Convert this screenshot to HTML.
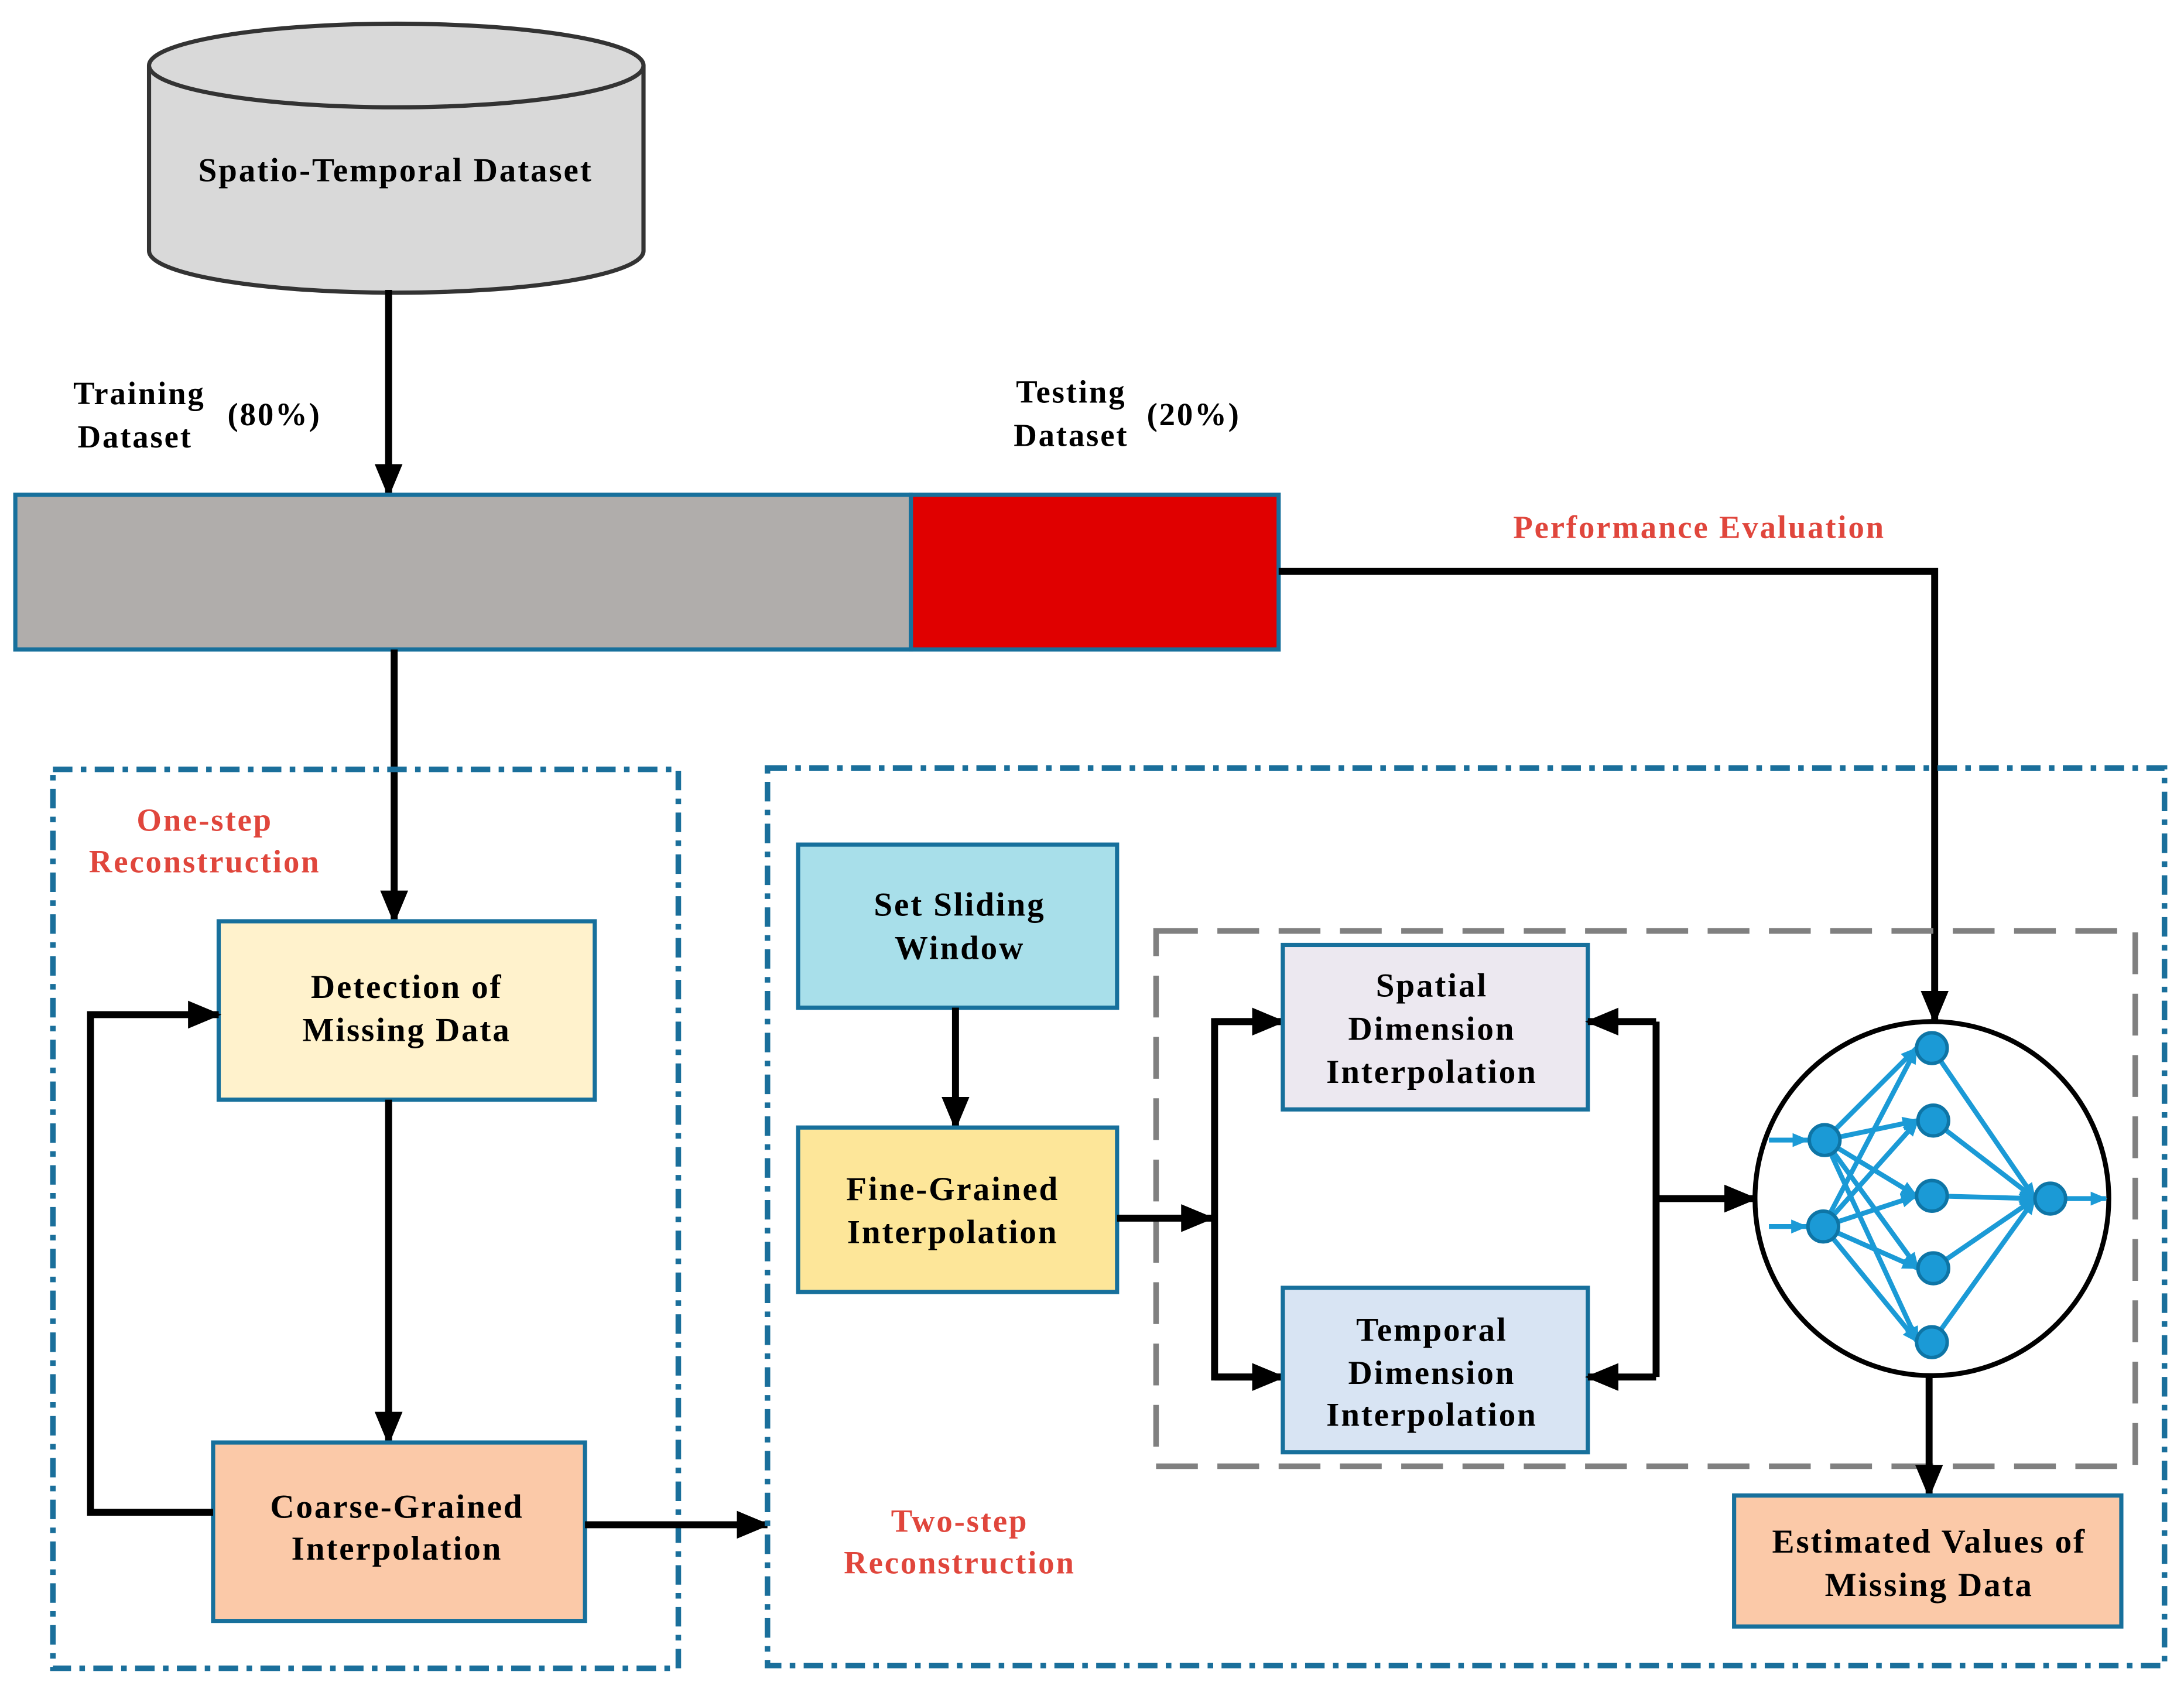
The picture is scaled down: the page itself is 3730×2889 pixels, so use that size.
<!DOCTYPE html>
<html><head><meta charset="utf-8"><style>
html,body{margin:0;padding:0;background:#fff;}
svg{display:block;}
text{font-family:"Liberation Serif",serif;font-weight:bold;letter-spacing:1.2px;}
</style></head><body>
<svg width="3730" height="2889" viewBox="0 0 1568 1214" preserveAspectRatio="none" xmlns="http://www.w3.org/2000/svg">
<defs>
<marker id="a" markerUnits="userSpaceOnUse" markerWidth="24" markerHeight="24" viewBox="0 0 24 24" refX="22" refY="12" orient="auto"><path d="M0,2 L24,12 L0,22 Z" fill="#000"/></marker>
<marker id="b" markerUnits="userSpaceOnUse" markerWidth="12" markerHeight="12" viewBox="0 0 12 12" refX="11" refY="6" orient="auto"><path d="M0,1 L12,6 L0,11 Z" fill="#1b9ad6"/></marker>
</defs>
<path d="M107,47 L107,180 A177.5,30 0 0 0 462,180 L462,47" fill="#d9d9d9" stroke="#333" stroke-width="3"/>
<ellipse cx="284.5" cy="47" rx="177.5" ry="30" fill="#d9d9d9" stroke="#333" stroke-width="3"/>
<text x="284" y="130" font-size="24" text-anchor="middle">Spatio-Temporal Dataset</text>
<line x1="279" y1="208" x2="279" y2="355" stroke="#000" stroke-width="5" marker-end="url(#a)"/>
<g font-size="23" text-anchor="middle">
<text x="100" y="290">Training</text><text x="97" y="321">Dataset</text><text x="197" y="305">(80%)</text>
<text x="769" y="289">Testing</text><text x="769" y="320">Dataset</text><text x="857" y="305">(20%)</text>
</g>
<rect x="11" y="355" width="643" height="111" fill="#b0adab" stroke="#17709c" stroke-width="3"/>
<rect x="654" y="355" width="264" height="111" fill="#e00000" stroke="#17709c" stroke-width="3"/>
<text x="1220" y="386" font-size="23" fill="#e0463c" text-anchor="middle">Performance Evaluation</text>
<polyline points="918,410 1389,410 1389,733" fill="none" stroke="#000" stroke-width="5" marker-end="url(#a)"/>
<line x1="283" y1="466" x2="283" y2="661" stroke="#000" stroke-width="5" marker-end="url(#a)"/>
<rect x="38" y="552" width="449" height="645" fill="none" stroke="#1a6f9b" stroke-width="4" stroke-dasharray="14,6,4,6"/>
<g font-size="23" fill="#e0463c" text-anchor="middle"><text x="147" y="596">One-step</text><text x="147" y="626">Reconstruction</text>
<text x="689" y="1099">Two-step</text><text x="689" y="1129">Reconstruction</text></g>
<rect x="157" y="661" width="270" height="128" fill="#fff2cc" stroke="#17709c" stroke-width="3"/>
<g font-size="24" text-anchor="middle"><text x="292" y="716">Detection of</text><text x="292" y="747">Missing Data</text></g>
<line x1="279" y1="789" x2="279" y2="1035" stroke="#000" stroke-width="5" marker-end="url(#a)"/>
<rect x="153" y="1035" width="267" height="128" fill="#fbc9a8" stroke="#17709c" stroke-width="3"/>
<g font-size="24" text-anchor="middle"><text x="285" y="1089">Coarse-Grained</text><text x="285" y="1119">Interpolation</text></g>
<polyline points="153,1085 65,1085 65,728 157,728" fill="none" stroke="#000" stroke-width="5" marker-end="url(#a)"/>
<line x1="420" y1="1094" x2="551" y2="1094" stroke="#000" stroke-width="5" marker-end="url(#a)"/>
<rect x="551" y="551" width="1003" height="644" fill="none" stroke="#1a6f9b" stroke-width="4" stroke-dasharray="14,6,4,6"/>
<rect x="573" y="606" width="229" height="117" fill="#a8dfea" stroke="#17709c" stroke-width="3"/>
<g font-size="24" text-anchor="middle"><text x="689" y="657">Set Sliding</text><text x="689" y="688">Window</text></g>
<line x1="686" y1="723" x2="686" y2="809" stroke="#000" stroke-width="5" marker-end="url(#a)"/>
<rect x="573" y="809" width="229" height="118" fill="#fde699" stroke="#17709c" stroke-width="3"/>
<g font-size="24" text-anchor="middle"><text x="684" y="861">Fine-Grained</text><text x="684" y="892">Interpolation</text></g>
<rect x="830" y="668" width="703" height="384" fill="none" stroke="#808080" stroke-width="4" stroke-dasharray="30,14"/>
<line x1="802" y1="874" x2="870" y2="874" stroke="#000" stroke-width="5" marker-end="url(#a)"/>
<polyline points="921,733 872,733 872,988 921,988" fill="none" stroke="#000" stroke-width="5"/>
<line x1="872" y1="733" x2="921" y2="733" stroke="#000" stroke-width="5" marker-end="url(#a)"/>
<line x1="872" y1="988" x2="921" y2="988" stroke="#000" stroke-width="5" marker-end="url(#a)"/>
<rect x="921" y="678" width="219" height="118" fill="#ece8f0" stroke="#17709c" stroke-width="3"/>
<g font-size="24" text-anchor="middle"><text x="1028" y="715">Spatial</text><text x="1028" y="746">Dimension</text><text x="1028" y="777">Interpolation</text></g>
<rect x="921" y="924" width="219" height="118" fill="#d8e4f3" stroke="#17709c" stroke-width="3"/>
<g font-size="24" text-anchor="middle"><text x="1028" y="962">Temporal</text><text x="1028" y="993">Dimension</text><text x="1028" y="1023">Interpolation</text></g>
<polyline points="1189,733 1189,988" fill="none" stroke="#000" stroke-width="5"/>
<line x1="1189" y1="733" x2="1140" y2="733" stroke="#000" stroke-width="5" marker-end="url(#a)"/>
<line x1="1189" y1="988" x2="1140" y2="988" stroke="#000" stroke-width="5" marker-end="url(#a)"/>
<line x1="1189" y1="860" x2="1260" y2="860" stroke="#000" stroke-width="5" marker-end="url(#a)"/>
<ellipse cx="1387" cy="860" rx="127" ry="127" fill="#fff" stroke="#000" stroke-width="3.5"/>
<g stroke="#1b9ad6" stroke-width="3.5" marker-end="url(#b)">
<line x1="1270" y1="818" x2="1298" y2="818"/><line x1="1270" y1="880" x2="1297" y2="880"/>
<line x1="1310" y1="818" x2="1376" y2="752"/><line x1="1310" y1="818" x2="1377" y2="804"/><line x1="1310" y1="818" x2="1376" y2="858"/><line x1="1310" y1="818" x2="1377" y2="910"/><line x1="1310" y1="818" x2="1377" y2="963"/>
<line x1="1309" y1="880" x2="1376" y2="752"/><line x1="1309" y1="880" x2="1377" y2="804"/><line x1="1309" y1="880" x2="1376" y2="858"/><line x1="1309" y1="880" x2="1377" y2="910"/><line x1="1309" y1="880" x2="1377" y2="963"/>
<line x1="1387" y1="752" x2="1461" y2="860"/><line x1="1388" y1="804" x2="1461" y2="860"/><line x1="1387" y1="858" x2="1461" y2="860"/><line x1="1388" y1="910" x2="1461" y2="860"/><line x1="1387" y1="963" x2="1461" y2="860"/>
<line x1="1484" y1="860" x2="1512" y2="860"/>
</g>
<g fill="#1b9ad6" stroke="#0e75a6" stroke-width="2.5">
<circle cx="1310" cy="818" r="11"/><circle cx="1309" cy="880" r="11"/>
<circle cx="1387" cy="752" r="11"/><circle cx="1388" cy="804" r="11"/><circle cx="1387" cy="858" r="11"/><circle cx="1388" cy="910" r="11"/><circle cx="1387" cy="963" r="11"/>
<circle cx="1472" cy="860" r="11"/>
</g>
<line x1="1385" y1="988" x2="1385" y2="1073" stroke="#000" stroke-width="5" marker-end="url(#a)"/>
<rect x="1245" y="1073" width="278" height="94" fill="#fbc9a8" stroke="#17709c" stroke-width="3"/>
<g font-size="24" text-anchor="middle"><text x="1385" y="1114">Estimated Values of</text><text x="1385" y="1145">Missing Data</text></g>
</svg>
</body></html>
